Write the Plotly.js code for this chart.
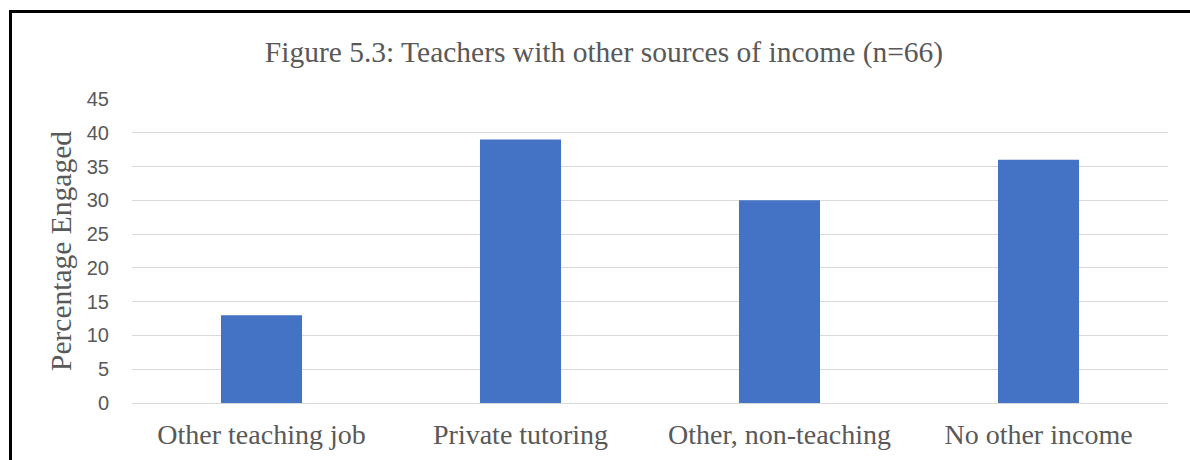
<!DOCTYPE html>
<html>
<head>
<meta charset="utf-8">
<script src="https://cdn.plot.ly/plotly-3.0.1.min.js"></script>
<style>
  html, body { margin: 0; padding: 0; background: #fff; }
  #wrap { position: relative; width: 1190px; height: 460px; overflow: hidden; }
  #chart { width: 1190px; height: 460px; }
  #frame { position: absolute; left: 9px; top: 10px; width: 1190px; height: 460px;
           border-left: 3px solid #000; border-top: 3px solid #000; pointer-events: none; }
</style>
</head>
<body>
<div id="wrap">
  <div id="chart"></div>
  <div id="frame"></div>
</div>
<script>
const categories = ["Other teaching job", "Private tutoring", "Other, non-teaching", "No other income"];
const percentages = [13, 39, 30, 36];
const yTicks = [0, 5, 10, 15, 20, 25, 30, 35, 40, 45];

const trace = {
  type: "bar",
  x: categories,
  y: percentages,
  marker: { color: "#4472C4" },
  hoverinfo: "x+y"
};

const serif = "Liberation Serif, Times New Roman, serif";

const layout = {
  width: 1190,
  height: 460,
  margin: { l: 132, r: 22, t: 99, b: 57 },
  paper_bgcolor: "#ffffff",
  plot_bgcolor: "#ffffff",
  bargap: 0.687,
  showlegend: false,
  title: {
    text: "Figure 5.3: Teachers with other sources of income (n=66)",
    font: { family: serif, size: 29.5, color: "#595959" },
    x: 604 / 1190, xanchor: "center", xref: "container",
    y: 1 - 52 / 460, yanchor: "middle", yref: "container"
  },
  xaxis: {
    type: "category",
    tickfont: { family: serif, size: 28, color: "#595959" },
    showgrid: false,
    showline: false,
    ticks: "",
    ticklen: 0,
    ticklabelstandoff: 12
  },
  yaxis: {
    range: [0, 45],
    tickvals: yTicks,
    ticktext: yTicks.map(String),
    tickfont: { family: "Liberation Sans, Arial, sans-serif", size: 20, color: "#595959" },
    showgrid: true,
    gridcolor: "#d9d9d9",
    gridwidth: 1,
    zeroline: true,
    zerolinecolor: "#d9d9d9",
    zerolinewidth: 1,
    showline: false,
    ticks: "",
    ticklabelstandoff: 22,
    title: {
      text: "Percentage Engaged",
      font: { family: serif, size: 29.5, color: "#595959" },
      standoff: 6
    }
  }
};

Plotly.newPlot("chart", [trace], layout, { displayModeBar: false, staticPlot: true });
</script>
</body>
</html>
